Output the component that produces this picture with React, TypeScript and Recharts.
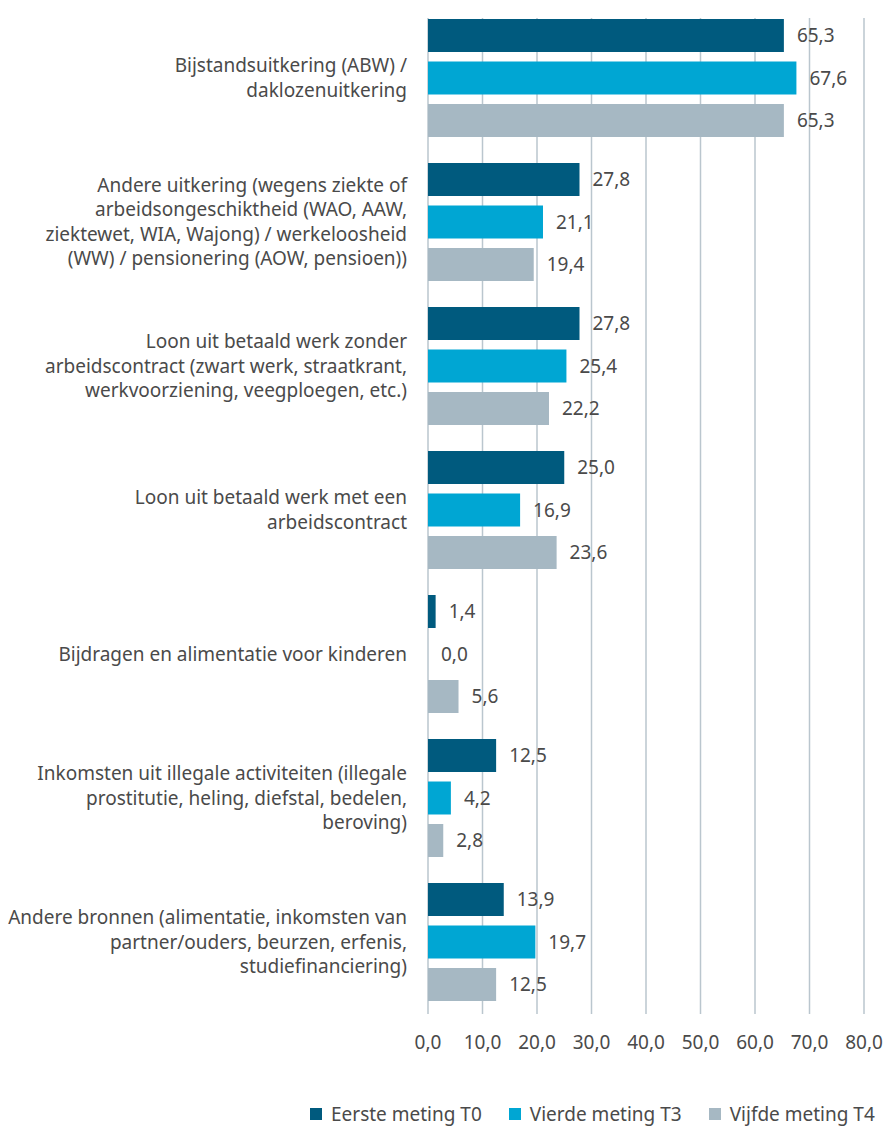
import React from 'react';
import { BarChart, Bar, XAxis, YAxis, CartesianGrid, Legend, LabelList } from 'recharts';

const categories = [
  ['Bijstandsuitkering (ABW) /', 'daklozenuitkering'],
  ['Andere uitkering (wegens ziekte of', 'arbeidsongeschiktheid (WAO, AAW,', 'ziektewet, WIA, Wajong) / werkeloosheid', '(WW) / pensionering (AOW, pensioen))'],
  ['Loon uit betaald werk zonder', 'arbeidscontract (zwart werk, straatkrant,', 'werkvoorziening, veegploegen, etc.)'],
  ['Loon uit betaald werk met een', 'arbeidscontract'],
  ['Bijdragen en alimentatie voor kinderen'],
  ['Inkomsten uit illegale activiteiten (illegale', 'prostitutie, heling, diefstal, bedelen,', 'beroving)'],
  ['Andere bronnen (alimentatie, inkomsten van', 'partner/ouders, beurzen, erfenis,', 'studiefinanciering)'],
];

const eersteT0 = [65.3, 27.8, 27.8, 25.0, 1.4, 12.5, 13.9];
const vierdeT3 = [67.6, 21.1, 25.4, 16.9, 0.0, 4.2, 19.7];
const vijfdeT4 = [65.3, 19.4, 22.2, 23.6, 5.6, 2.8, 12.5];

const xTicks = [0, 10, 20, 30, 40, 50, 60, 70, 80];

const series = [
  { key: 't0', name: 'Eerste meting T0', color: '#005a7e' },
  { key: 't3', name: 'Vierde meting T3', color: '#00a6d3' },
  { key: 't4', name: 'Vijfde meting T4', color: '#a6b8c3' },
];

const data = categories.map((lines, i) => ({
  name: lines.join(' '),
  lines,
  t0: eersteT0[i],
  t3: vierdeT3[i],
  t4: vijfdeT4[i],
}));

const FONT = '"Noto Sans", sans-serif';
const TEXT = '#4a4a4a';
const FS = 19;
const fmt = (v: any) => Number(v).toFixed(1).replace('.', ',');

const CategoryTick = ({ x, y, index }: any) => {
  const lines = categories[index] || [];
  const lh = 24.5;
  const start = -((lines.length - 1) * lh) / 2;
  return (
    <text x={x} y={y} textAnchor="end" fill={TEXT} fontSize={FS} fontFamily={FONT}>
      {lines.map((l, i) => (
        <tspan key={i} x={x} y={y + start + i * lh} dy="0.35em">{l}</tspan>
      ))}
    </text>
  );
};

const ValueLabel = ({ x, y, width, height, value }: any) => (
  <text
    x={x + (width || 0) + 13}
    y={y + height / 2}
    dy="0.35em"
    fill={TEXT}
    fontSize={FS}
    fontFamily={FONT}
  >
    {fmt(value)}
  </text>
);

// grid lines start a bit below the top of the plot, like the original
const GridLine = ({ x1, y1, x2, y2 }: any) => (
  <line x1={x1} y1={y1 + 12} x2={x2} y2={y2} stroke="#bac6ce" strokeWidth={1.5} />
);

const LegendContent = () => (
  <div style={{ display: 'flex', whiteSpace: 'nowrap', fontFamily: FONT, fontSize: FS, color: TEXT }}>
    {series.map((s) => (
      <div key={s.key} style={{ display: 'flex', alignItems: 'center', marginRight: 27, whiteSpace: 'nowrap' }}>
        <span style={{ width: 12, height: 12, background: s.color, display: 'inline-block', marginRight: 9, flexShrink: 0 }} />
        <span>{s.name}</span>
      </div>
    ))}
  </div>
);

export default function App() {
  return (
    <div style={{ position: 'absolute', left: 0, top: 0, width: 888, height: 1127, background: '#fff' }}>
      <BarChart
        width={888}
        height={1127}
        data={data}
        layout="vertical"
        margin={{ top: 6, right: 24, left: 0, bottom: 0 }}
        barSize={33}
        barGap={9.5}
      >
        <CartesianGrid horizontal={false} vertical={(p: any) => <GridLine key={p.key} {...p} />} />
        <XAxis
          type="number"
          domain={[0, 80]}
          ticks={xTicks}
          tickFormatter={fmt}
          axisLine={false}
          tickLine={false}
          height={63}
          tick={{ fill: TEXT, fontSize: FS, fontFamily: FONT }}
          tickMargin={16}
        />
        <YAxis
          type="category"
          dataKey="name"
          width={428}
          axisLine={false}
          tickLine={false}
          tick={<CategoryTick />}
          tickMargin={15}
          interval={0}
        />
        <Legend
          height={50}
          content={<LegendContent />}
          wrapperStyle={{ top: 1101, left: 310, width: 578 }}
        />
        {series.map((s) => (
          <Bar
            key={s.key}
            dataKey={s.key}
            name={s.name}
            fill={s.color}
            minPointSize={(v: any) => (v === 0 ? 0.01 : 0)}
            isAnimationActive={false}
          >
            <LabelList dataKey={s.key} content={<ValueLabel />} />
          </Bar>
        ))}
      </BarChart>
    </div>
  );
}
